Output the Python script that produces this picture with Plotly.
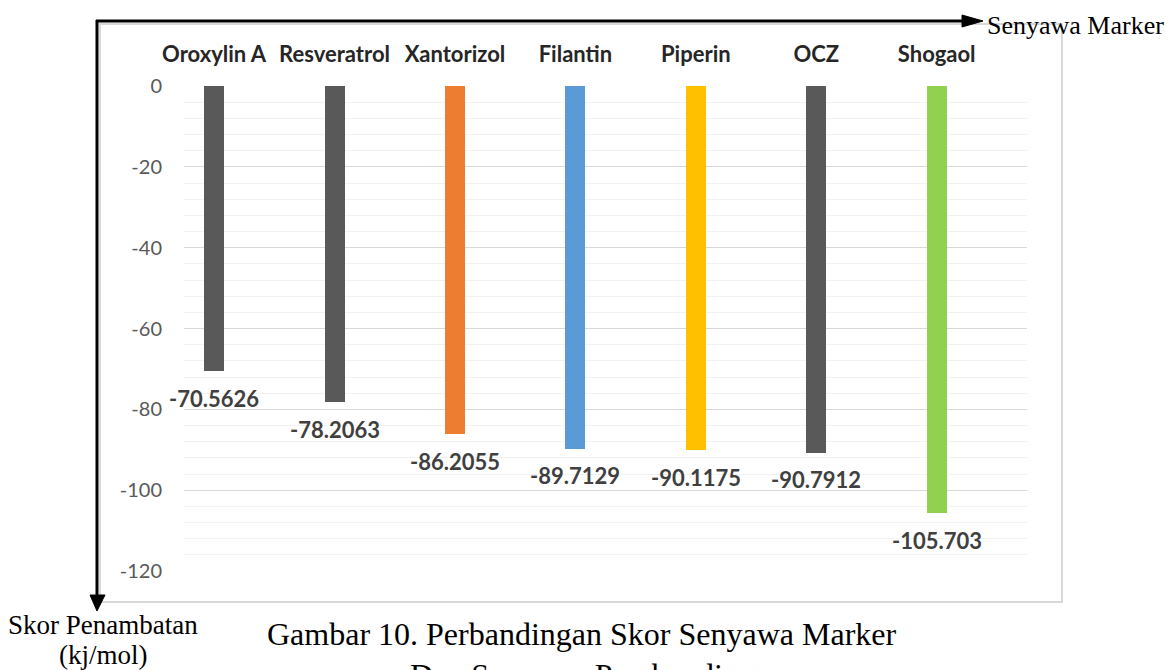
import plotly.graph_objects as go

categories = ["Oroxylin A", "Resveratrol", "Xantorizol", "Filantin", "Piperin", "OCZ", "Shogaol"]
scores = [-70.5626, -78.2063, -86.2055, -89.7129, -90.1175, -90.7912, -105.703]
score_labels = ["-70.5626", "-78.2063", "-86.2055", "-89.7129", "-90.1175", "-90.7912", "-105.703"]
bar_colors = ["#595959", "#595959", "#ED7D31", "#5B9BD5", "#FFC000", "#595959", "#92D050"]
y_ticks = [0, -20, -40, -60, -80, -100, -120]

W, H = 1175, 670
PL, PR, PT, PB = 184, 1027, 86, 571  # plot area in pixels


def px(x):
    return (x - PL) / (PR - PL)


def py(y):
    return (PB - y) / (PB - PT)


fig = go.Figure()
fig.add_trace(go.Bar(
    x=categories, y=scores, marker=dict(color=bar_colors, line=dict(width=0)),
    width=0.166, hoverinfo="x+y", showlegend=False,
))

annotations = []
for c, v, t in zip(categories, scores, score_labels):
    annotations.append(dict(
        x=c, y=v, xref="x", yref="y", text=t, showarrow=False,
        yanchor="middle", yshift=-27,
        font=dict(family="Lato", size=22, color="#404040", weight="bold"),
    ))

serif = "Liberation Serif"
annotations += [
    dict(x=px(985), y=py(25), xref="paper", yref="paper", text="Senyawa Marker",
         showarrow=False, xanchor="left", yanchor="middle",
         font=dict(family=serif, size=26, color="black")),
    dict(x=px(103), y=py(625), xref="paper", yref="paper", text="Skor Penambatan",
         showarrow=False, xanchor="center", yanchor="middle",
         font=dict(family=serif, size=27, color="black")),
    dict(x=px(103), y=py(655), xref="paper", yref="paper", text="(kj/mol)",
         showarrow=False, xanchor="center", yanchor="middle",
         font=dict(family=serif, size=27, color="black")),
    dict(x=px(582), y=py(634), xref="paper", yref="paper",
         text="Gambar 10. Perbandingan Skor Senyawa Marker",
         showarrow=False, xanchor="center", yanchor="middle",
         font=dict(family=serif, size=32, color="black")),
    dict(x=px(582), y=py(675), xref="paper", yref="paper",
         text="Dan Senyawa Pembanding",
         showarrow=False, xanchor="center", yanchor="middle",
         font=dict(family=serif, size=32, color="black")),
]

shapes = [
    # chart border
    dict(type="rect", xref="paper", yref="paper", x0=px(100), x1=px(1062), y0=py(24), y1=py(602),
         line=dict(color="#D9D9D9", width=2), layer="below"),
    # horizontal arrow
    dict(type="line", xref="paper", yref="paper", x0=px(96), x1=px(966), y0=py(21), y1=py(21),
         line=dict(color="black", width=3)),
    dict(type="path", xref="paper", yref="paper",
         path=f"M {px(962)} {py(15)} L {px(983)} {py(21)} L {px(962)} {py(27)} Z",
         fillcolor="black", line=dict(color="black", width=1)),
    # vertical arrow
    dict(type="line", xref="paper", yref="paper", x0=px(97), x1=px(97), y0=py(20), y1=py(598),
         line=dict(color="black", width=3)),
    dict(type="path", xref="paper", yref="paper",
         path=f"M {px(90)} {py(595)} L {px(97)} {py(611)} L {px(105)} {py(595)} Z",
         fillcolor="black", line=dict(color="black", width=1)),
]

fig.update_layout(
    width=W, height=H,
    margin=dict(l=PL, r=W - PR, t=PT, b=H - PB, pad=0),
    paper_bgcolor="white", plot_bgcolor="white",
    annotations=annotations, shapes=shapes,
    xaxis=dict(
        type="category", side="top", range=[-0.25, 6.75],
        showgrid=False, showline=False, zeroline=False, ticks="",
        tickfont=dict(family="Lato", size=22, color="#262626", weight="bold"),
        ticklabelstandoff=19, fixedrange=True,
    ),
    yaxis=dict(
        range=[-120, 0], tickvals=y_ticks, ticktext=[str(v) for v in y_ticks],
        showgrid=True, gridcolor="#D9D9D9", gridwidth=1,
        zeroline=False, showline=False, ticks="",
        minor=dict(dtick=4, showgrid=True, gridcolor="#F2F2F2", gridwidth=1),
        tickfont=dict(family="Lato", size=20, color="#595959"),
        ticklabelstandoff=21, fixedrange=True,
    ),
    bargap=0,
)

fig.write_html("out.html", config={"displayModeBar": False},
               post_script="document.body.style.margin='0px';")
